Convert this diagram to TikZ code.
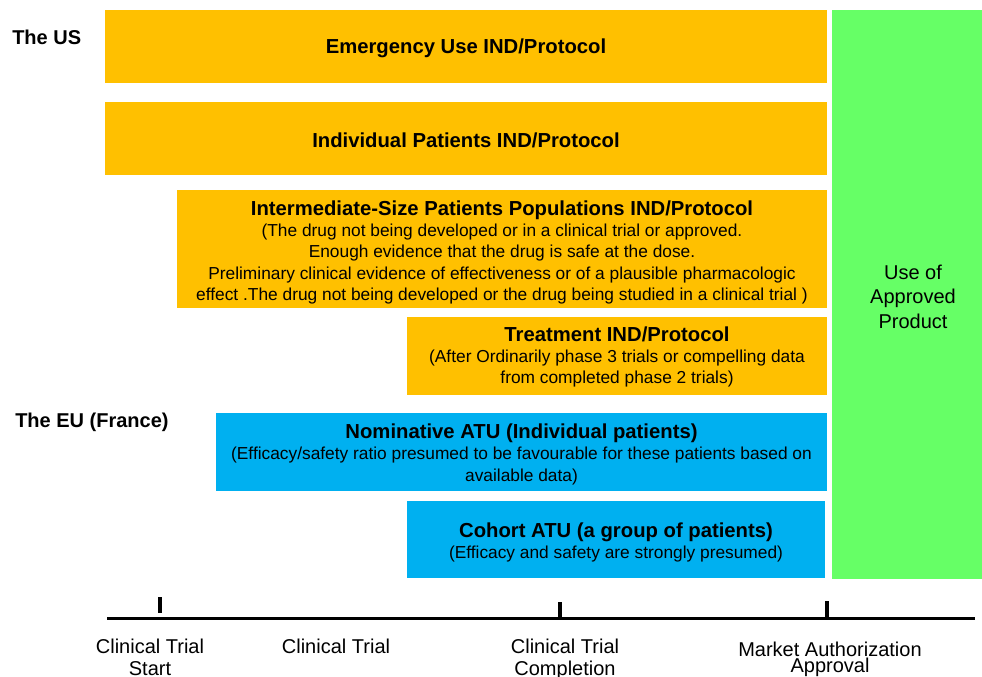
\documentclass[tikz,border=0pt]{standalone}
\usepackage{fontspec}
\setmainfont{Liberation Sans}
\usetikzlibrary{fit}
\definecolor{usorange}{HTML}{FFC000}
\definecolor{eublue}{HTML}{00B0F0}
\definecolor{approvedgreen}{HTML}{66FF66}
% bold heading line inside a band
\newcommand{\bandhead}[1]{{\fontsize{15.2}{18}\bfseries\selectfont #1}}
\begin{document}
\begin{tikzpicture}[x=0.75pt,y=-0.75pt,
  band/.style={inner sep=0pt, draw=none},
  usband/.style={band, fill=usorange},
  euband/.style={band, fill=eublue},
  approved/.style={band, fill=approvedgreen},
  bandtext/.style={align=center, inner sep=0pt,
    font=\fontsize{13}{16}\selectfont},
  approvedtext/.style={bandtext, font=\fontsize{15}{18.4}\selectfont},
  region/.style={anchor=west, inner sep=0pt, font=\fontsize{15}{18}\bfseries\selectfont},
  milestone/.style={align=center, font=\fontsize{15}{16.5}\selectfont},
  axisline/.style={line width=2.25pt},
  tick/.style={line width=3pt}]
\useasboundingbox (0,0) rectangle (982,677);

% region labels
\node[region] (us) at (12,37) {The US};
\node[region] (eu) at (15,422) {The EU (France)};

% US expanded-access bands
\node[usband, fit={(105,10) (827,83)}] (emerg) {};
\node[usband, fit={(105,102) (827,175)}] (indiv) {};
\node[usband, fit={(177,190) (827,308)}] (inter) {};
\node[usband, fit={(407,317) (827,395)}] (treat) {};

% EU (France) ATU bands
\node[euband, fit={(216,413) (827,491)}] (nomin) {};
\node[euband, fit={(407,501) (825,578)}] (cohort) {};

% post-approval use
\node[approved, fit={(832,10) (982,579)}] (use) {};

% band texts
\node[bandtext] (emergtxt) at ([yshift=-1.5pt]emerg.center)
  {\bandhead{Emergency Use IND/Protocol}};
\node[bandtext] (indivtxt) at ([yshift=-1.2pt]indiv.center)
  {\bandhead{Individual Patients IND/Protocol}};
\node[bandtext] (intertxt) at ([yshift=-2.5pt]inter.center)
  {\bandhead{Intermediate-Size Patients Populations IND/Protocol}\\
   (The drug not being developed or in a clinical trial or approved.\\
   Enough evidence that the drug is safe at the dose.\\
   Preliminary clinical evidence of effectiveness or of a plausible pharmacologic\\
   effect .The drug not being developed or the drug being studied in a clinical trial )};
\node[bandtext] (treattxt) at ([yshift=-0.8pt]treat.center)
  {\bandhead{Treatment IND/Protocol}\\
   (After Ordinarily phase 3 trials or compelling data\\
   from completed phase 2 trials)};
\node[bandtext] (nomintxt) at ([yshift=-1.8pt]nomin.center)
  {\bandhead{Nominative ATU (Individual patients)}\\
   (Efficacy/safety ratio presumed to be favourable for these patients based on\\
   available data)};
\node[bandtext] (cohorttxt) at ([yshift=-2pt]cohort.center)
  {\bandhead{Cohort ATU (a group of patients)}\\
   (Efficacy and safety are strongly presumed)};
\node[approvedtext] (usetxt) at ([xshift=4.5pt,yshift=-1.5pt]use.center)
  {Use of\\Approved\\Product};

% timeline
\coordinate (axl) at (107,618);
\coordinate (axr) at (975,618);
\draw[axisline] (axl) -- (axr);
\coordinate (t1a) at (160,597); \coordinate (t1b) at (160,613);
\coordinate (t2a) at (560,602); \coordinate (t2b) at (560,618);
\coordinate (t3a) at (827,601); \coordinate (t3b) at (827,617);
\draw[tick] (t1a) -- (t1b);
\draw[tick] (t2a) -- (t2b);
\draw[tick] (t3a) -- (t3b);

% milestone labels
\node[milestone] (start) at (150,657) {Clinical Trial\\Start};
\node[milestone] (trial) at (336,646) {Clinical Trial};
\node[milestone] (compl) at (565,659) {Clinical Trial\\Completion};
\node[milestone, font=\fontsize{15}{12}\selectfont] (mkt) at (830,659)
  {Market Authorization\\Approval};
\end{tikzpicture}
\end{document}
